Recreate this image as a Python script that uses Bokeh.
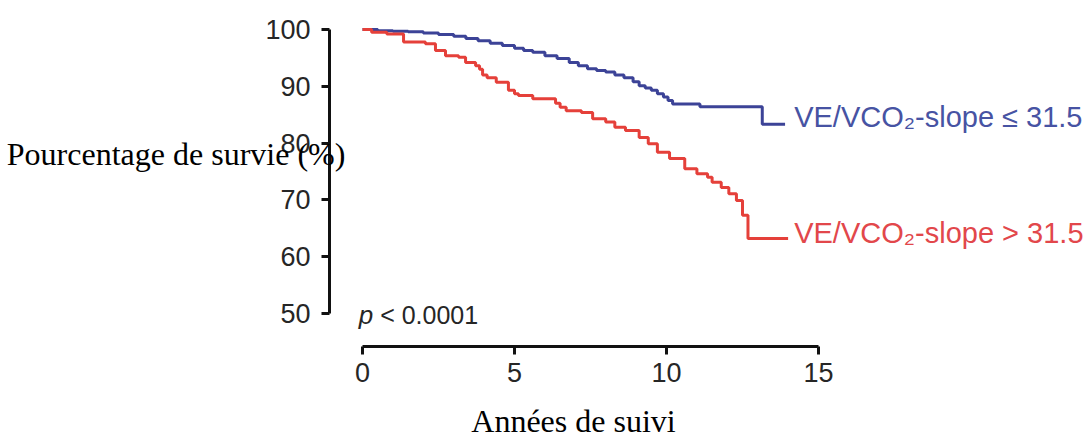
from bokeh.plotting import figure
from bokeh.models import Label, Range1d, FixedTicker, LinearAxis
from bokeh.embed import file_html
from bokeh.resources import INLINE

# ---- data ----
blue_t = [0, 0.5, 1.0, 1.5, 2.0, 2.5, 3.0, 3.4, 3.8, 4.2, 4.6, 5.0, 5.3, 5.6, 6.0, 6.4, 6.8,
          7.1, 7.4, 7.7, 8.0, 8.3, 8.6, 8.9, 9.1, 9.3, 9.5, 9.7, 9.9, 10.05, 10.2, 11.1, 13.15, 13.9]
blue_s = [100, 99.8, 99.7, 99.6, 99.4, 99.1, 98.8, 98.4, 98.0, 97.6, 97.2, 96.7, 96.3, 96.0, 95.4,
          94.9, 94.2, 93.6, 93.1, 92.8, 92.5, 92.0, 91.5, 90.8, 90.1, 89.7, 89.3, 88.7, 88.1, 87.5,
          86.9, 86.4, 83.3, 83.3]

red_t = [0, 0.3, 0.8, 1.35, 2.07, 2.4, 2.73, 3.16, 3.39, 3.72, 3.85, 3.95, 4.1, 4.4, 4.8, 5.0,
         5.13, 5.6, 6.35, 6.5, 6.7, 7.2, 7.57, 8.0, 8.3, 8.65, 9.1, 9.4, 9.7, 10.1, 10.6, 11.0,
         11.35, 11.5, 11.8, 12.05, 12.3, 12.5, 12.68, 14.0]
red_s = [100, 99.5, 99.2, 97.8, 97.5, 96.3, 95.4, 95.1, 94.2, 93.6, 93.0, 92.0, 91.5, 90.7, 89.3,
         88.7, 88.4, 87.8, 87.0, 86.3, 85.7, 85.4, 84.3, 83.7, 82.8, 82.2, 81.0, 79.9, 78.4, 77.3,
         75.5, 74.6, 74.0, 73.1, 72.2, 71.1, 69.9, 67.3, 63.2, 63.2]

group_labels = ["VE/VCO\u2082-slope \u2264 31.5", "VE/VCO\u2082-slope > 31.5"]
x_ticks = [0, 5, 10, 15]
y_ticks = [50, 60, 70, 80, 90, 100]
x_title = "Années de suivi"
y_title = "Pourcentage de survie (%)"
p_text = "< 0.0001"

BLUE = "#3c4397"
RED = "#e5403a"
BLUE_TXT = "#4753a3"
RED_TXT = "#e2474b"
INK = "#262626"

# frame covers the whole canvas; axes are pinned at fixed data locations
p = figure(width=1090, height=441, output_backend="svg", toolbar_location=None,
           x_range=Range1d(-11.908, 23.947), y_range=Range1d(27.465, 105.106),
           x_axis_type=None, y_axis_type=None,
           min_border_left=0, min_border_right=0, min_border_top=0, min_border_bottom=0)
p.outline_line_color = None
p.xgrid.visible = False
p.ygrid.visible = False
p.background_fill_color = "white"
p.border_fill_color = "white"

p.step(blue_t, blue_s, mode="after", line_color=BLUE, line_width=3)
p.step(red_t, red_s, mode="after", line_color=RED, line_width=3)

xaxis = LinearAxis(fixed_location=44.19)
yaxis = LinearAxis(fixed_location=-1.086)
for ax, ticks, bounds in ((xaxis, x_ticks, (0, 15)), (yaxis, y_ticks, (50, 100))):
    ax.ticker = FixedTicker(ticks=ticks)
    ax.bounds = bounds
    ax.axis_line_width = 3
    ax.axis_line_color = "#111111"
    ax.major_tick_line_width = 3
    ax.major_tick_line_color = "#111111"
    ax.major_tick_out = 8
    ax.major_tick_in = 0
    ax.minor_tick_line_color = None
    ax.major_label_text_font = "Liberation Sans"
    ax.major_label_text_font_size = "27px"
    ax.major_label_text_color = INK
yaxis.major_label_standoff = 11
xaxis.major_label_standoff = 8
p.add_layout(xaxis, "below")
p.add_layout(yaxis, "left")

# end-of-curve labels
p.add_layout(Label(x=14.2, y=84.6, text=group_labels[0], text_color=BLUE_TXT,
                   text_font="Liberation Sans", text_font_size="29px", text_baseline="middle"))
p.add_layout(Label(x=14.2, y=64.1, text=group_labels[1], text_color=RED_TXT,
                   text_font="Liberation Sans", text_font_size="29px", text_baseline="middle"))

# p-value
p.add_layout(Label(x=-0.12, y=49.8, text="p", text_color=INK, text_font="Liberation Sans",
                   text_font_style="italic", text_font_size="26px", text_baseline="alphabetic"))
p.add_layout(Label(x=0.58, y=49.8, text=p_text, text_color=INK, text_font="Liberation Sans",
                   text_font_size="25px", text_baseline="alphabetic"))

# axis titles (serif, horizontal)
p.add_layout(Label(x=-11.7, y=78.0, text=y_title, text_color="black", text_font="Liberation Serif",
                   text_font_size="32px", text_baseline="alphabetic"))
p.add_layout(Label(x=6.94, y=31.0, text=x_title, text_color="black", text_font="Liberation Serif",
                   text_font_size="32px", text_baseline="alphabetic", text_align="center"))

open("out.html", "w").write(file_html(p, INLINE))
